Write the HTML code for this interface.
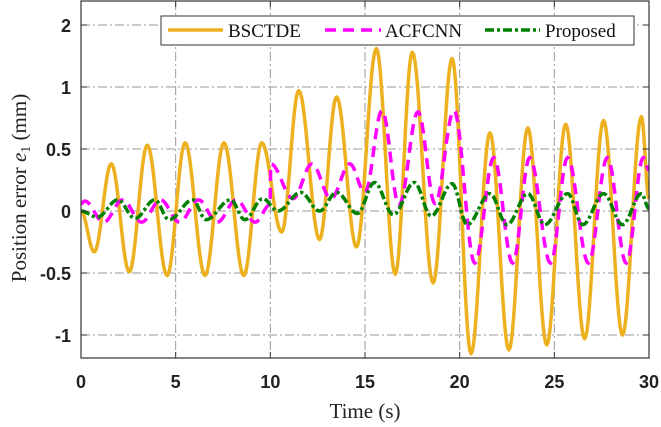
<!DOCTYPE html>
<html><head><meta charset="utf-8"><style>
html,body{margin:0;padding:0;background:#fff;}
svg{display:block;}
.tick{font-family:"Liberation Sans",sans-serif;font-weight:bold;font-size:18px;fill:#222;}
.title{font-family:"Liberation Serif",serif;font-size:21px;fill:#222;}
.leg{font-family:"Liberation Serif",serif;font-size:19px;fill:#111;}
</style></head><body>
<svg id="chart" width="661" height="427" viewBox="0 0 661 427">
<g id="grid"></g>
<g id="series"></g>
<g id="axes"></g>
<text class="title" x="365" y="418" text-anchor="middle">Time (s)</text>
<text class="title" transform="translate(26,188) rotate(-90)" text-anchor="middle">Position error <tspan font-style="italic">e</tspan><tspan font-size="14" dy="4">1</tspan><tspan dy="-4"> (mm)</tspan></text>
<g>
<rect x="161" y="16" width="473" height="29" fill="#fff" stroke="#333" stroke-width="1"/>
<g>
<line x1="168" y1="30" x2="223" y2="30" stroke="#EDB120" stroke-width="3.5"/>
<text class="leg" x="228" y="37">BSCTDE</text></g>
<g>
<line x1="325" y1="30" x2="381" y2="30" stroke="#FF00FF" stroke-width="3.5" stroke-dasharray="11,7"/>
<text class="leg" x="385" y="37">ACFCNN</text></g>
<g>
<line x1="485" y1="30" x2="540" y2="30" stroke="#008000" stroke-width="3.5" stroke-dasharray="9,3,3,3"/>
<text class="leg" x="545" y="37">Proposed</text></g>
</g>
</svg>
<script>
const xTicks=[0,5,10,15,20,25,30];
const xTickLabels=["0","5","10","15","20","25","30"];
const yTicks=[-1,-0.5,0,0.5,1,1.5];
const yTickLabels=["-1","-0.5","0","0.5","1","2"];
const bsctdeT=[0,0.7,1.6,2.55,3.5,4.55,5.5,6.55,7.55,8.6,9.55,10.6,11.5,12.6,13.5,14.55,15.6,16.6,17.5,18.6,19.6,20.6,21.6,22.6,23.6,24.6,25.6,26.6,27.6,28.6,29.6,30];
const bsctdeV=[0,-0.33,0.38,-0.49,0.53,-0.52,0.55,-0.52,0.55,-0.52,0.55,-0.17,0.97,-0.23,0.92,-0.29,1.31,-0.51,1.28,-0.58,1.23,-1.15,0.63,-1.12,0.67,-1.08,0.70,-1.03,0.73,-1.0,0.76,0.1];
const acfT=[0,0.2,1.2,2.2,3.2,4.2,5.2,6.2,7.2,8.2,9.2,9.99,10.02,11.2,12.2,13.2,14.2,15.0,15.9,16.8,17.8,18.7,19.7,20.8,21.8,22.8,23.7,24.8,25.7,26.8,27.8,28.8,29.7,30];
const acfV=[0.06,0.08,-0.09,0.09,-0.09,0.09,-0.09,0.09,-0.09,0.09,-0.09,0.05,0.38,0.1,0.38,0.1,0.38,0.15,0.81,0.05,0.80,0.06,0.81,-0.42,0.43,-0.42,0.43,-0.42,0.43,-0.42,0.43,-0.42,0.43,0.33];
const propT=[0,0.85,1.95,2.85,3.9,4.65,5.9,6.6,7.9,8.65,9.6,10.4,11.6,12.6,13.5,14.6,15.5,16.5,17.6,18.5,19.6,20.4,21.6,22.5,23.6,24.5,25.7,26.5,27.6,28.6,29.6,30];
const propV=[0,-0.05,0.09,-0.06,0.09,-0.07,0.09,-0.07,0.09,-0.07,0.1,0,0.15,0,0.15,-0.02,0.23,-0.03,0.23,-0.04,0.22,-0.11,0.14,-0.11,0.14,-0.11,0.14,-0.11,0.14,-0.11,0.14,0.02];

const X0=81,X1=649,YT=1,YB=358;
const xs=t=>X0+(t-0)/30*(X1-X0);
const ys=v=>211-v*124;
const NS="http://www.w3.org/2000/svg";
function mk(tag,attrs,parent){const e=document.createElementNS(NS,tag);for(const k in attrs)e.setAttribute(k,attrs[k]);parent.appendChild(e);return e;}
const grid=document.getElementById('grid'),axes=document.getElementById('axes'),series=document.getElementById('series');
xTicks.forEach((t,i)=>{
  if(i>0&&i<xTicks.length-1){const g=mk('line',{x1:xs(t),x2:xs(t),y1:YT,y2:YB,stroke:'#999','stroke-width':1,'stroke-dasharray':'9,3,2,3'},grid);
  
  }
  mk('line',{x1:xs(t),x2:xs(t),y1:YB,y2:YB-6,stroke:'#333'},axes);
  mk('line',{x1:xs(t),x2:xs(t),y1:YT,y2:YT+6,stroke:'#333'},axes);
  const tx=mk('text',{x:xs(t),y:388,'text-anchor':'middle',class:'tick'},axes);tx.textContent=xTickLabels[i];
  
  
});
yTicks.forEach((v,i)=>{
  const g=mk('line',{x1:X0,x2:X1,y1:ys(v),y2:ys(v),stroke:'#999','stroke-width':1,'stroke-dasharray':'9,3,2,3'},grid);
  
  
  mk('line',{x1:X0,x2:X0+6,y1:ys(v),y2:ys(v),stroke:'#333'},axes);
  mk('line',{x1:X1,x2:X1-6,y1:ys(v),y2:ys(v),stroke:'#333'},axes);
  const tx=mk('text',{x:X0-10,y:ys(v)+7,'text-anchor':'end',class:'tick'},axes);tx.textContent=yTickLabels[i];
  
  
});
const frame=mk('rect',{x:X0,y:YT,width:X1-X0,height:YB-YT,fill:'none',stroke:'#333','stroke-width':1.2},axes);


function pathFrom(T,V){let d='M'+xs(T[0]).toFixed(2)+','+ys(V[0]).toFixed(2);
  for(let i=0;i<T.length-1;i++){const n=16;for(let k=1;k<=n;k++){const f=k/n,w=(1-Math.cos(Math.PI*f))/2;
    const t=T[i]+(T[i+1]-T[i])*f,v=V[i]+(V[i+1]-V[i])*w;d+=' L'+xs(t).toFixed(2)+','+ys(v).toFixed(2);}}
  return d;}
const p1=mk('path',{d:pathFrom(bsctdeT,bsctdeV),fill:'none',stroke:'#EDB120','stroke-width':3.5,'stroke-linejoin':'round'},series);


const p2=mk('path',{d:pathFrom(acfT,acfV),fill:'none',stroke:'#FF00FF','stroke-width':3.5,'stroke-dasharray':'11,7'},series);


const p3=mk('path',{d:pathFrom(propT,propV),fill:'none',stroke:'#008000','stroke-width':3.5,'stroke-dasharray':'9,3,3,3'},series);


</script>
</body></html>
